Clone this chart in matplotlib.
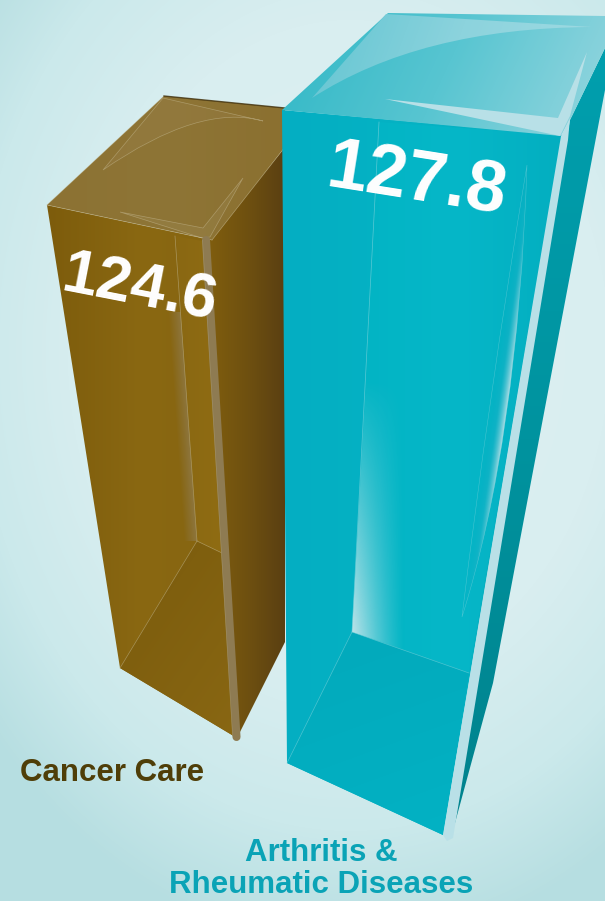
import numpy as np
import matplotlib
matplotlib.use('Agg')
import matplotlib.pyplot as plt
from matplotlib.colors import LinearSegmentedColormap, to_rgba
from matplotlib.path import Path
from matplotlib.patches import PathPatch

# data
categories = ['Cancer Care', 'Arthritis &\nRheumatic Diseases']
values = [124.6, 127.8]

W, H = 605, 901
plt.rcParams['font.family'] = ['Liberation Sans', 'DejaVu Sans']

fig = plt.figure(figsize=(W / 100, H / 100), dpi=100)
ax = fig.add_axes([0, 0, 1, 1])
ax.axis('off')


def poly(pts):
    return Path(list(pts) + [pts[0]], closed=True)


def curved(*segs):
    # segs: start point, then (ctrl, end) for a curve or (end,) for a straight line
    verts, codes = [segs[0]], [Path.MOVETO]
    for s in segs[1:]:
        if len(s) == 2 and isinstance(s[0], tuple):
            verts += [s[0], s[1]]
            codes += [Path.CURVE3, Path.CURVE3]
        else:
            verts.append(s)
            codes.append(Path.LINETO)
    verts.append(segs[0])
    codes.append(Path.CLOSEPOLY)
    return Path(verts, codes)


def grad(path, colors, angle=0, z=2, box=None):
    # linear gradient clipped to a path, angle in degrees on screen (y down)
    x0, y0 = path.vertices.min(axis=0)
    x1, y1 = path.vertices.max(axis=0)
    x0, y0, x1, y1 = np.floor(x0), np.floor(y0), np.ceil(x1), np.ceil(y1)
    xx, yy = np.meshgrid(np.arange(x0, x1 + 1) + .5, np.arange(y0, y1 + 1) + .5)
    a = np.radians(angle)
    t = xx * np.cos(a) + yy * np.sin(a)
    if box is None:
        t = (t - t.min()) / (t.max() - t.min())
    else:
        t = np.clip((t - box[0]) / (box[1] - box[0]), 0, 1)
    cmap = LinearSegmentedColormap.from_list('g', [to_rgba(c) if isinstance(c, str) else c for c in colors])
    im = ax.imshow(t, cmap=cmap, vmin=0, vmax=1, extent=(x0, x1 + 1, y1 + 1, y0),
                   interpolation='bilinear', aspect='auto', zorder=z)
    im.set_clip_path(PathPatch(path, transform=ax.transData))
    return im


def shape(path, fc='none', ec='none', lw=0.5, alpha=None, z=3):
    ax.add_patch(PathPatch(path, facecolor=fc, edgecolor=ec, lw=lw, alpha=alpha, zorder=z))


def edge(p, q, color, lw=0.5, alpha=0.6, z=3):
    ax.plot([p[0], q[0]], [p[1], q[1]], color=color, lw=lw, alpha=alpha, zorder=z)


# background
xx, yy = np.meshgrid(np.arange(W), np.arange(H))
r = np.hypot((xx - 350) / 470, (yy - 350) / 600)
bg = LinearSegmentedColormap.from_list('bg', [(0, '#dff0f1'), (.55, '#d9eef0'), (.8, '#cbe9eb'), (1, '#b6dee1')])
ax.imshow(np.clip(r, 0, 1), cmap=bg, vmin=0, vmax=1, extent=(0, W, H, 0), aspect='auto', zorder=0)

# ---- brown box ----
grad(poly([(47, 205), (212, 240), (237, 738), (120, 668)]), ['#7d5c0c', '#8a6812', '#856410'], 0)
grad(poly([(210, 240), (285, 147), (285, 642), (237, 738)]), ['#7f5d0e', '#6e5010', '#5a3f12'], 0)
grad(poly([(47, 205), (164, 96), (285, 108), (285, 147), (212, 240)]), ['#8c7233', '#8e7536', '#8b7030'], 0)
grad(poly([(120, 668), (197, 541), (222, 553), (237, 738)]), ['#7a5b0c', '#896713'], 35, z=3)
# back wall sheen
grad(poly([(155, 312), (180.5, 312), (197, 541), (172, 541)]),
     [(.55, .46, .26, 0), (.56, .47, .26, .9)], -4, z=3, box=(146, 158.5))
grad(poly([(176, 236), (208, 242), (222, 553), (197, 541)]), ['#8a6812', '#8f6c12'], 0, z=3)
edge((175, 236), (197, 541), '#b5a677', alpha=.75, z=3.1)
edge((197, 541), (222, 553), '#c4b88e', z=3.1)
edge((197, 541), (120, 668), '#b5a677', alpha=.7, z=3.1)
edge((47, 205), (212, 240), '#c9bd97', alpha=.6)
edge((212, 240), (285, 147), '#c9bd97', alpha=.6)
edge((47, 205), (164, 96), '#bfb28a', alpha=.4)
edge((164, 96), (285, 108), '#3d2c08', lw=1.0, alpha=.8)
# top sheen
lens_b = curved((103, 170), (163, 98), (263, 121), ((200, 103), (103, 170)))
shape(lens_b, fc='#ffffff', alpha=.035, z=4)
shape(lens_b, ec='#cfc5a3', lw=.5, alpha=.45, z=4)
lens_b2 = curved((120, 212), (203, 228), (243, 178), (210, 237), (202, 238))
shape(lens_b2, fc='#ffffff', alpha=.05, z=4)
shape(lens_b2, ec='#cfc5a3', lw=.5, alpha=.45, z=4)
# front corner strip
ax.plot([206, 236.5], [240, 737], color='#8e7b52', lw=5.8, solid_capstyle='round', zorder=5)
edge((202.5, 240), (232.5, 735), '#b5a97f', lw=.5, alpha=.4, z=5)

# ---- teal box ----
side = poly([(570, 120), (605, 48), (605, 90), (493, 683), (455, 823), (447, 830)])
grad(side, ['#009fae', '#00939f', '#00828d'], 90)
grad(poly([(282, 110), (562, 135), (443, 835), (287, 763)]), ['#04aec2', '#05b3c4', '#03aebf'], 0, z=3)
grad(poly([(379, 122), (562, 135), (469, 673), (352, 632)]), ['#02b4c4', '#06b7c8', '#03aec0'], 0, z=3)
grad(poly([(287, 763), (352, 632), (469, 673), (443, 835)]), ['#03a9bb', '#02b2c4'], 70, z=3)
# back wall sheen, fades out going up
wall = poly([(366, 380), (405, 380), (405, 650), (352, 632)])
xs = np.linspace(0, 1, 60)
ys = np.linspace(0, 1, 120)
sh = np.zeros((120, 60, 4))
sh[..., :3] = to_rgba('#c6e6eb')[:3]
sh[..., 3] = (1 - xs[None, :]) ** 1.3 * ys[:, None] ** .9
im = ax.imshow(sh, extent=(352, 405, 650, 380), aspect='auto', zorder=3.5, interpolation='bilinear')
im.set_clip_path(PathPatch(wall, transform=ax.transData))
edge((379, 122), (352, 632), '#7fd3dc', alpha=.7, z=3.6)
edge((352, 632), (287, 763), '#7fd3dc', alpha=.6, z=3.6)
edge((352, 632), (469, 673), '#7fd3dc', alpha=.6, z=3.6)
# long lens on the right of the wall, pale along its right side
lens_t = curved((527, 165), ((488, 400), (462, 617)), ((518, 440), (527, 165)))
grad(lens_t, [(.01, .68, .76, 0), (.1, .7, .78, .5), (.68, .87, .9, 1)], 8, z=3.6, box=(541, 559))
shape(lens_t, ec='#8fd8e0', lw=.35, alpha=.5, z=3.7)
# top face
top = poly([(282, 110), (388, 13), (605, 16), (605, 48), (572, 116), (561, 136)])
grad(top, ['#30b8c6', '#58c5d1', '#96d6df'], 25, z=4)
lens_t1 = curved((312, 98), (386, 14), (592, 27), ((420, 28), (312, 98)))
grad(lens_t1, ['#62c5d2', '#8cd3dd', '#a0dbe3'], 20, z=4.5)
lens_t2 = curved((385, 99), (558, 118), (587, 52), (570, 116), (560, 136))
shape(lens_t2, fc='#b8e0e7', z=4.5)
# front corner strip
strip = poly([(561, 136), (570, 118), (568, 140), (453, 838), (447, 841), (443, 835)])
shape(strip, fc='#b9e0e7', z=5)

# value labels, tilted with the front faces
label_pos = [(139, 289), (417, 181)]
label_rot = [-11, -9]
label_size = [45, 52]
for v, (x, y), rot, fs in zip(values, label_pos, label_rot, label_size):
    ax.text(x, y, f'{v:.1f}', color='white', fontsize=fs, fontweight='bold',
            rotation=rot, rotation_mode='anchor', ha='center', va='center', zorder=6)

# category labels
ax.text(112, 773, categories[0], color='#4f3e08', fontsize=22.5, fontweight='bold',
        ha='center', va='center', zorder=6)
ax.text(321, 869, categories[1], color='#0aa3b6', fontsize=22.5, fontweight='bold',
        ha='center', va='center', linespacing=1.12, zorder=6)

ax.set_xlim(0, W)
ax.set_ylim(H, 0)
fig.savefig('out.png', dpi=100)
